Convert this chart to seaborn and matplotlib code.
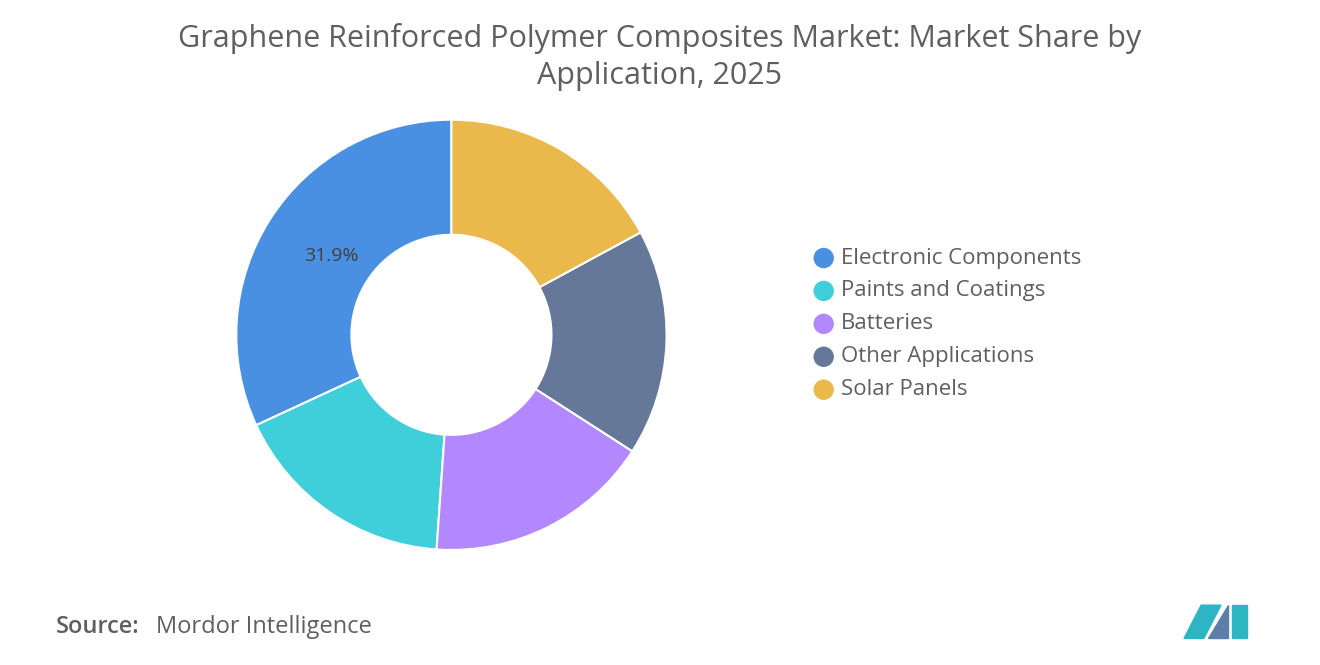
import matplotlib
matplotlib.use("Agg")
import matplotlib.pyplot as plt
import seaborn as sns
from matplotlib.patches import Polygon, Ellipse

sns.set_theme(style="white")
plt.rcParams['font.family'] = ['Open Sans', 'DejaVu Sans']

# data
labels = ['Electronic Components', 'Paints and Coatings', 'Batteries', 'Other Applications', 'Solar Panels']
shares = [31.9, 17.0, 17.0, 17.0, 17.1]
colors = ['#4A90E2', '#3ECFDB', '#B388FF', '#657899', '#EBB84B']

fig = plt.figure(figsize=(13.2, 6.65), dpi=100)
ax = fig.add_axes([0.179, 0.173, 0.326, 0.647])
wedges, _ = ax.pie(shares, colors=colors, startangle=90, counterclock=True,
                   wedgeprops=dict(width=0.535, edgecolor='white', linewidth=1.5))
ax.set_xlim(-1, 1)
ax.set_ylim(-1, 1)
ax.set_aspect('equal')
ax.text(-0.56, 0.365, '31.9%', fontsize=14, color='#404040', ha='center', va='center')

fig.text(0.5, 0.965, 'Graphene Reinforced Polymer Composites Market: Market Share by\nApplication, 2025',
         ha='center', va='top', fontsize=22, color='#5f5f5f', linespacing=1.3)

for i, (lab, col) in enumerate(zip(labels, colors)):
    y = 0.612 - i * 0.0495
    fig.patches.append(Ellipse((0.624, y), 19 / 1320, 19 / 665, transform=fig.transFigure,
                               color=col, figure=fig))
    fig.text(0.637, y, lab, fontsize=16, color='#5f5f5f', va='center')

fig.text(0.042, 0.057, 'Source:', fontsize=17, color='#5f5f5f', fontweight='semibold', va='center')
fig.text(0.118, 0.057, 'Mordor Intelligence', fontsize=17, color='#5f5f5f', va='center')

# simple logo
for pts, c in [([(0.897, 0.04), (0.912, 0.04), (0.925, 0.09), (0.91, 0.09)], '#2db5c4'),
               ([(0.915, 0.04), (0.93, 0.04), (0.93, 0.09)], '#5c7ea8'),
               ([(0.933, 0.04), (0.945, 0.04), (0.945, 0.09), (0.933, 0.09)], '#2db5c4')]:
    fig.patches.append(Polygon(pts, closed=True, transform=fig.transFigure, color=c, figure=fig))

fig.savefig('out.png', dpi=100)
